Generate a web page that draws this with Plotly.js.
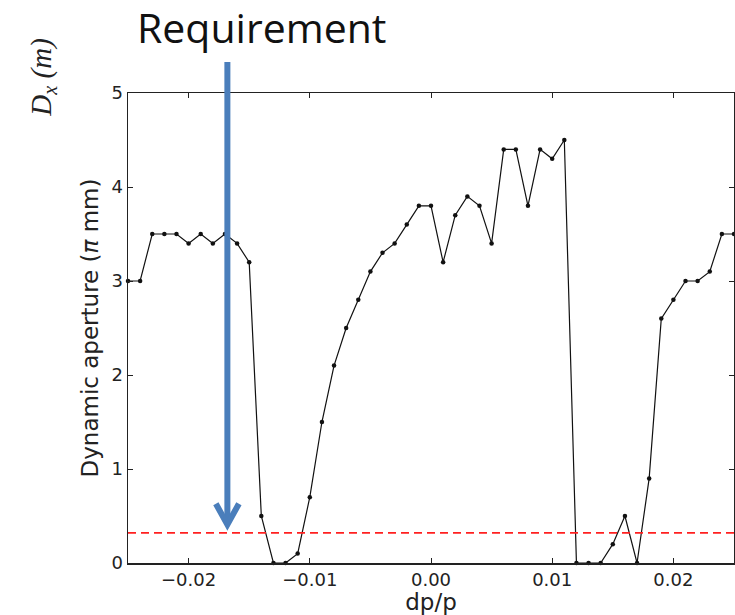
<!DOCTYPE html>
<html>
<head>
<meta charset="utf-8">
<script src="https://cdn.plot.ly/plotly-3.0.1.min.js"></script>
<style>html,body{margin:0;padding:0;background:#fff;}#chart{width:735px;height:615px;}</style>
</head>
<body>
<div id="chart"></div>
<script>
// dp/p values (momentum deviation)
const dpp = [-0.025,-0.024,-0.023,-0.022,-0.021,-0.020,-0.019,-0.018,-0.017,-0.016,
  -0.015,-0.014,-0.013,-0.012,-0.011,-0.010,-0.009,-0.008,-0.007,-0.006,
  -0.005,-0.004,-0.003,-0.002,-0.001,0.000,0.001,0.002,0.003,0.004,
  0.005,0.006,0.007,0.008,0.009,0.010,0.011,0.012,0.013,0.014,
  0.015,0.016,0.017,0.018,0.019,0.020,0.021,0.022,0.023,0.024,0.025];
// Dynamic aperture (pi mm)
const aperture = [3.0,3.0,3.5,3.5,3.5,3.4,3.5,3.4,3.5,3.4,
  3.2,0.5,0.0,0.0,0.1,0.7,1.5,2.1,2.5,2.8,
  3.1,3.3,3.4,3.6,3.8,3.8,3.2,3.7,3.9,3.8,
  3.4,4.4,4.4,3.8,4.4,4.3,4.5,0.0,0.0,0.0,
  0.2,0.5,0.0,0.9,2.6,2.8,3.0,3.0,3.1,3.5,3.5];
const requirementLevel = 0.32;
const requirementDpp = -0.0168;
const xTicks = [-0.02,-0.01,0.00,0.01,0.02];
const yTicks = [0,1,2,3,4,5];

const tickFont = {family:'DejaVu Sans', size:18, color:'#222'};
const arrowColor = '#4a7ebb';

const trace = {
  x: dpp, y: aperture, type:'scatter', mode:'lines+markers',
  line:{color:'#111', width:1.2},
  marker:{color:'#111', size:4.5},
  hoverinfo:'skip', cliponaxis:false
};

const layout = {
  width:735, height:615,
  margin:{l:128, r:1, t:93, b:52},
  paper_bgcolor:'#fff', plot_bgcolor:'#fff',
  showlegend:false,
  xaxis:{
    range:[-0.025,0.025], tickvals:xTicks, ticktext:xTicks.map(v=>v.toFixed(2).replace('-','\u2212')),
    ticks:'inside', ticklen:5, tickcolor:'#222', tickwidth:1,
    showline:true, linecolor:'#222', linewidth:1.5, mirror:'ticks',
    showgrid:false, zeroline:false, tickfont:tickFont,
    title:{text:'dp/p', font:{family:'DejaVu Sans', size:23, color:'#222'}, standoff:0}
  },
  yaxis:{
    range:[0,5], tickvals:yTicks,
    ticks:'inside', ticklen:5, tickcolor:'#222', tickwidth:1,
    showline:true, linecolor:'#222', linewidth:1.5, mirror:'ticks',
    showgrid:false, zeroline:false, tickfont:tickFont,
    title:{text:'Dynamic aperture (<i>π</i> mm)', font:{family:'DejaVu Sans', size:23, color:'#222'}, standoff:6}
  },
  shapes:[
    {type:'line', xref:'paper', x0:0, x1:1, yref:'y', y0:requirementLevel, y1:requirementLevel,
     line:{color:'#ff2020', width:1.6, dash:'8px,5px'}, layer:'above'},
    {type:'line', xref:'x', x0:requirementDpp, x1:requirementDpp, yref:'paper', y0:1.066, y1:0.085,
     line:{color:arrowColor, width:6}, layer:'above'},
    {type:'path', xref:'x', yref:'y',
     path:`M ${requirementDpp-0.00095},0.63 L ${requirementDpp},0.41 L ${requirementDpp+0.00095},0.63`,
     line:{color:arrowColor, width:6}, layer:'above'}
  ],
  annotations:[
    {text:'Requirement', xref:'paper', yref:'paper', x:0.221, y:1.14, xanchor:'center', yanchor:'middle',
     showarrow:false, font:{family:'Open Sans', size:41, color:'#111'}},
    {text:'<i>D<sub>x</sub> (m)</i>', xref:'paper', yref:'paper', x:-0.14, y:1.033, xanchor:'center', yanchor:'middle',
     textangle:-90, showarrow:false, font:{family:'Liberation Serif', size:29, color:'#222'}}
  ]
};

Plotly.newPlot('chart', [trace], layout, {displayModeBar:false, staticPlot:true});
</script>
</body>
</html>
